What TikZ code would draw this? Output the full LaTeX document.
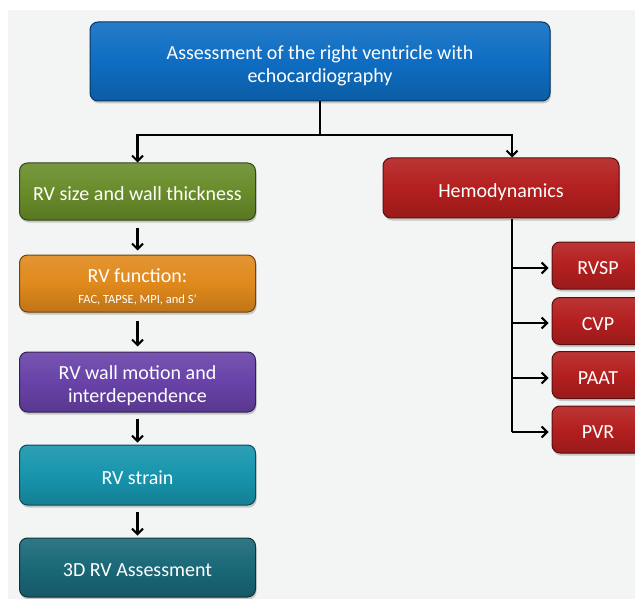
\documentclass[tikz,border=0pt]{standalone}
\usepackage{fontspec}
\setmainfont{Carlito}
\usetikzlibrary{arrows.meta,shadows}
\definecolor{bgc}{HTML}{F3F5F5}
\definecolor{cblue}{HTML}{0E6DC2}
\definecolor{cgreen}{HTML}{698C2A}
\definecolor{corange}{HTML}{E0891C}
\definecolor{cpurple}{HTML}{6842A8}
\definecolor{cteal}{HTML}{1795AD}
\definecolor{cdteal}{HTML}{1A6878}
\definecolor{cred}{HTML}{B41F1F}
\newcommand{\lowtxt}[1]{\raisebox{-4.5pt}[\height][\depth]{\begin{tabular}{@{}c@{}}#1\end{tabular}}}
\tikzset{
  box/.style={rounded corners=8pt, draw=#1!50!black, line width=1pt,
    top color=#1!90!white, bottom color=#1!85!black, middle color=#1,
    text=white, inner sep=0pt,
    font=\fontsize{20}{23}\selectfont,
    drop shadow={shadow xshift=1pt, shadow yshift=-2.5pt, opacity=0.4}},
  lbox/.style={box=#1, minimum width=236pt},
  sbox/.style={box=#1, minimum width=92pt, minimum height=47pt},
  conn/.style={line width=2.3pt, black},
  arr/.style={conn, -{Straight Barb[length=5.5pt,width=11pt,line width=2pt]}}
}
\begin{document}
\begin{tikzpicture}[x=1pt,y=-1pt]
\useasboundingbox (0,0) rectangle (635,599);
\clip (0,0) rectangle (635,599);
\fill[white] (0,0) rectangle (635,599);
\fill[bgc] (8,10) rectangle (635,599);

\node[box=cblue, minimum width=460pt, minimum height=79pt] (top) at (320,61.5)
  {\lowtxt{Assessment of the right ventricle with\\echocardiography}};

\node[lbox=cgreen, minimum height=57pt] (size) at (137.5,191.5) {\lowtxt{RV size and wall thickness}};
\node[lbox=corange, minimum height=57pt] (func) at (137.5,283.5)
  {\lowtxt{RV function:\\[-2pt]{\fontsize{12.5}{14}\selectfont FAC, TAPSE, MPI, and S'}}};
\node[lbox=cpurple, minimum height=60pt] (wall) at (137.5,382) {\lowtxt{RV wall motion and\\interdependence}};
\node[lbox=cteal, minimum height=60pt] (strain) at (137.5,475) {\lowtxt{RV strain}};
\node[lbox=cdteal, minimum height=59pt] (threed) at (137.5,567.5) {\lowtxt{3D RV Assessment}};

\node[box=cred, minimum width=236pt, minimum height=60pt] (hemo) at (501,188) {\lowtxt{Hemodynamics}};

\node[sbox=cred] (rvsp) at (598,265.5) {\lowtxt{RVSP}};
\node[sbox=cred] (cvp) at (598,321) {\lowtxt{CVP}};
\node[sbox=cred] (paat) at (598,375) {\lowtxt{PAAT}};
\node[sbox=cred] (pvr) at (598,429.5) {\lowtxt{PVR}};

% top connectors
\coordinate (j) at (320,135);
\coordinate (jl) at (137.5,135);
\coordinate (jr) at (512,135);
\draw[conn] (top.south) -- (j);
\draw[arr] (j) -- (jl) -- (size.north);
\draw[arr] (j) -- (jr) -- (jr |- hemo.north);

% left chain
\draw[arr, shorten <=7pt, shorten >=4pt] (size.south) -- (func.north);
\draw[arr, shorten <=8pt, shorten >=5pt] (func.south) -- (wall.north);
\draw[arr, shorten <=6pt, shorten >=2pt] (wall.south) -- (strain.north);
\draw[arr, shorten <=6pt, shorten >=2pt] (strain.south) -- (threed.north);

% hemodynamics branches
\coordinate (hs) at (512,218);
\coordinate (he) at (512,432);
\draw[conn] (hs |- hemo.south) -- (he);
\draw[arr, shorten >=3pt] (512,268) coordinate (b1) -- (b1 -| rvsp.west);
\draw[arr, shorten >=3pt] (512,323) coordinate (b2) -- (b2 -| cvp.west);
\draw[arr, shorten >=3pt] (512,378) coordinate (b3) -- (b3 -| paat.west);
\draw[arr, shorten >=3pt] (he) -- (he -| pvr.west);
\end{tikzpicture}
\end{document}
